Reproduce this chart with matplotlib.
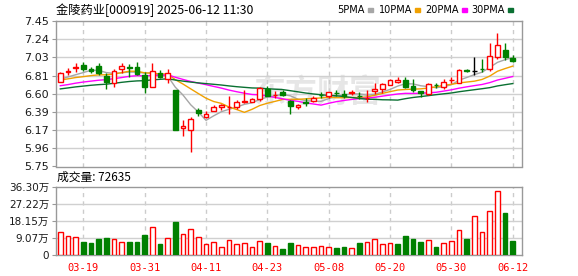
import numpy as np
import pandas as pd
import matplotlib
matplotlib.use('Agg')
import matplotlib.pyplot as plt

# ---- data ----
tick_idx = [3, 11, 19, 27, 35, 43, 51, 59]
tick_labels = ['03-19', '03-31', '04-11', '04-23', '05-08', '05-20', '05-30', '06-12']

open_ = [6.743, 6.855, 6.905, 6.937, 6.886, 6.925, 6.81, 6.723, 6.886, 6.913,
         6.91, 6.82, 6.684, 6.848, 6.77, 6.646, 6.195, 6.18, 6.41, 6.327,
         6.397, 6.44, 6.44, 6.44, 6.502, 6.506, 6.537, 6.661, 6.58, 6.615,
         6.51, 6.44, 6.50, 6.51, 6.585, 6.576, 6.61, 6.599, 6.61, 6.572,
         6.545, 6.634, 6.657, 6.708, 6.743, 6.762, 6.692, 6.63, 6.599, 6.706,
         6.677, 6.755, 6.73, 6.873, 6.867, 6.89, 6.886, 7.026, 7.112, 7.015]
high = [6.855, 6.898, 6.964, 6.976, 6.91, 6.964, 6.84, 6.886, 6.956, 6.95,
        6.968, 6.859, 6.956, 6.88, 6.886, 6.646, 6.296, 6.327, 6.43, 6.393,
        6.47, 6.482, 6.576, 6.53, 6.646, 6.549, 6.677, 6.685, 6.63, 6.638,
        6.53, 6.482, 6.549, 6.568, 6.615, 6.626, 6.638, 6.638, 6.638, 6.626,
        6.646, 6.72, 6.72, 6.77, 6.79, 6.80, 6.77, 6.637, 6.724, 6.73,
        6.77, 6.80, 6.886, 6.89, 7.034, 7.01, 7.19, 7.314, 7.19, 7.054]
low = [6.74, 6.82, 6.859, 6.87, 6.848, 6.82, 6.653, 6.684, 6.848, 6.80,
       6.82, 6.607, 6.684, 6.78, 6.72, 6.18, 6.11, 5.915, 6.335, 6.315,
       6.393, 6.413, 6.366, 6.425, 6.495, 6.50, 6.51, 6.568, 6.55, 6.568,
       6.366, 6.425, 6.452, 6.50, 6.549, 6.549, 6.576, 6.549, 6.58, 6.537,
       6.498, 6.599, 6.607, 6.70, 6.73, 6.665, 6.626, 6.565, 6.588, 6.665,
       6.657, 6.72, 6.72, 6.85, 6.82, 6.85, 6.87, 7.003, 6.995, 6.976]
close = [6.848, 6.862, 6.912, 6.886, 6.863, 6.84, 6.735, 6.863, 6.925, 6.905,
         6.832, 6.684, 6.87, 6.80, 6.848, 6.18, 6.226, 6.304, 6.374, 6.362,
         6.444, 6.467, 6.445, 6.506, 6.518, 6.537, 6.665, 6.576, 6.59, 6.588,
         6.46, 6.467, 6.495, 6.556, 6.58, 6.618, 6.607, 6.576, 6.615, 6.568,
         6.549, 6.657, 6.716, 6.762, 6.765, 6.684, 6.646, 6.61, 6.712, 6.70,
         6.743, 6.762, 6.878, 6.868, 6.867, 6.886, 7.042, 7.17, 7.026, 6.988]
# closes before the visible window (for the moving averages)
pre_close = [6.52, 6.55, 6.60, 6.58, 6.62, 6.57, 6.55, 6.59, 6.61, 6.63,
             6.60, 6.58, 6.62, 6.65, 6.63, 6.60, 6.64, 6.66, 6.62, 6.68,
             6.72, 6.76, 6.78, 6.74, 6.75, 6.73, 6.78, 6.76, 6.73]

# volume in 万 (10k)
vol = [12.1, 10.0, 9.4, 6.9, 6.4, 8.5, 9.1, 8.4, 6.8, 6.9,
       6.9, 10.7, 14.8, 5.9, 9.1, 17.6, 11.0, 13.7, 9.4, 5.7,
       6.8, 4.3, 7.8, 5.7, 6.2, 4.1, 7.3, 6.4, 4.6, 3.2,
       6.2, 5.2, 4.3, 4.3, 4.6, 4.3, 3.7, 4.3, 3.7, 6.4,
       6.8, 8.4, 5.7, 6.2, 5.7, 10.1, 8.5, 6.9, 7.8, 4.3,
       6.2, 7.5, 13.3, 8.5, 20.6, 12.1, 23.3, 34.2, 22.4, 7.26]
vol_up = [1, 1, 1, 0, 0, 0, 0, 1, 1, 0, 0, 0, 1, 0, 1, 0, 1, 1, 1, 1,
          1, 1, 1, 1, 1, 1, 1, 0, 1, 0, 0, 1, 1, 1, 1, 1, 0, 0, 1, 0,
          1, 1, 1, 1, 0, 0, 0, 0, 1, 0, 1, 1, 1, 0, 1, 1, 1, 1, 0, 0]

price_labels = ['5.75', '5.96', '6.17', '6.39', '6.60', '6.81', '7.03', '7.24', '7.45']
vol_labels = ['0', '9.07万', '18.15万', '27.22万', '36.30万']

RED = '#ff0000'
GREEN = '#008000'
ma_cfg = [(5, '#a6a6a6', '5PMA'), (10, '#f0a000', '10PMA'),
          (20, '#ff00ff', '20PMA'), (30, '#0a7032', '30PMA')]

plt.rcParams['font.family'] = ['DejaVu Sans', 'Noto Sans CJK SC']

W, H = 578, 276
fig = plt.figure(figsize=(W / 100, H / 100), dpi=100)
fig.patch.set_facecolor('white')

def fx(px):
    return px / W

def fy(py):
    return 1 - py / H

ax = fig.add_axes([fx(56), fy(166.5), fx(466), 145.5 / H])
axv = fig.add_axes([fx(56), fy(255), fx(466), 68 / H])

n = len(close)
x = np.arange(n)
o = np.array(open_)
c = np.array(close)
up = c > o
down = c < o
cols = np.where(up, RED, np.where(down, GREEN, 'black'))

# watermark
ax.text(0.56, 0.5, '东方财富', transform=ax.transAxes, fontsize=23, fontweight='bold',
        color='#e6e6e6', ha='center', va='center', family=['Noto Sans CJK SC'], zorder=0)

# moving averages
full = pd.Series(pre_close + close)
for win, col, _ in ma_cfg:
    ma = full.rolling(win).mean().values[-n:]
    ax.plot(x, ma, color=col, lw=1, zorder=2)

# candles
ax.vlines(x, low, high, colors=cols, lw=1, zorder=3)
body_lo = np.minimum(o, c)
body_h = np.maximum(np.abs(c - o), 0.002)
ax.bar(x, body_h, bottom=body_lo, width=0.62, color=np.where(up, 'white', cols),
       edgecolor=cols, lw=1, zorder=4)

# volume
vcols = np.where(np.array(vol_up) == 1, RED, GREEN)
axv.bar(x, vol, width=0.6, color=np.where(np.array(vol_up) == 1, 'white', vcols),
        edgecolor=vcols, lw=1, zorder=3)

for a in (ax, axv):
    a.set_xlim(-0.56, 60.2)
    for s in a.spines.values():
        s.set_color('#999999')
        s.set_linewidth(1)
    a.set_xticks(tick_idx)
    for t in tick_idx:
        a.axvline(t, color='#cccccc', lw=1, ls=(0, (3, 3)), zorder=1)
    a.tick_params(axis='y', length=3, color='#999999', labelsize=8, labelcolor='#1a1a1a', pad=2)
    a.tick_params(axis='x', length=0)

ax.set_ylim(5.75, 7.45)
pt = np.linspace(5.75, 7.45, len(price_labels))
ax.set_yticks(pt)
ax.set_yticklabels(price_labels)
for v in pt[1:-1]:
    ax.axhline(v, color='#d0d0d0', lw=1, zorder=1)
ax.set_xticklabels([])

axv.set_ylim(0, 36.30)
vt = np.linspace(0, 36.30, len(vol_labels))
axv.set_yticks(vt)
axv.set_yticklabels(vol_labels)
axv.tick_params(axis='y', labelsize=7.5)
for v in vt[1:-1]:
    axv.axhline(v, color='#d0d0d0', lw=1, zorder=1)
axv.set_xticklabels(tick_labels, color=RED, fontsize=7.5, family='DejaVu Sans Mono')
axv.tick_params(axis='x', pad=6)

# header texts
fig.text(fx(56), fy(10), '金陵药业[000919] 2025-06-12 11:30', fontsize=8.8,
         family=['Noto Sans CJK SC'], va='center', ha='left', color='black')
sq_x = [368, 415, 462, 508]
for (win, col, name), sx in zip(ma_cfg, sq_x):
    fig.text(fx(sx - 3), fy(10), name, fontsize=7, family=['Liberation Sans Narrow', 'DejaVu Sans'],
             va='center', ha='right', color='black')
    fig.patches.append(plt.Rectangle((fx(sx), fy(12)), fx(5), 4 / H, transform=fig.transFigure,
                                     color=col, figure=fig))

fig.text(fx(57), fy(177), '成交量: 72635', fontsize=8.5, family=['Noto Sans CJK SC', 'DejaVu Sans'],
         va='center', ha='left', color='black')

fig.savefig('out.png', dpi=100, facecolor='white')
